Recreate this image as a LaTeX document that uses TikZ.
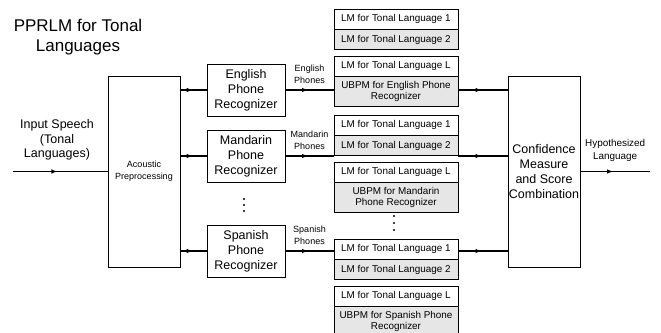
\documentclass[tikz,border=0pt]{standalone}
\usepackage{fontspec}
\setmainfont{Liberation Sans}
\usetikzlibrary{positioning,arrows.meta,decorations.markings}
\definecolor{lmfill}{RGB}{230,230,230}

\begin{document}
\begin{tikzpicture}[x=1pt, y=-1pt, node distance = 0pt]
      \tikzset{box/.style     = {draw, line width=0.8pt, align=center, inner sep=0pt},
               bigbox/.style  = {box, minimum width=72pt, minimum height=191pt},
               recog/.style   = {box, minimum width=78pt, minimum height=52pt,
                                 font=\fontsize{12.5}{15}\selectfont},
               lm/.style      = {box, minimum width=124pt, minimum height=19.5pt,
                                 font=\fontsize{9.9}{11}\selectfont},
               lmgrey/.style  = {lm, fill=lmfill},
               ubpm/.style    = {lmgrey, minimum height=29.5pt},
               small/.style   = {align=center, inner sep=1pt,
                                 font=\fontsize{9}{12}\selectfont},
               flow/.style    = {line width=1.1pt, postaction={decorate},
                                 decoration={markings, mark=at position 0.47 with
                                   {\arrow{Latex[length=6pt,width=4.5pt]}}}}}
      \useasboundingbox (0,0) rectangle (661,332);
      \node[align=center, font=\fontsize{17}{20}\selectfont] (title) at (78,37)
           {PPRLM for Tonal\\Languages};
      \node[align=center, font=\fontsize{12.5}{14.5}\selectfont] (input) at (57,140)
           {Input Speech\\(Tonal\\Languages)};
      \coordinate (in) at (13,171.5);
      \node[bigbox, small] (acoustic) at (144,171.5) {Acoustic\\Preprocessing};
      \node[recog] (english)  at (246,90)  {English\\Phone\\Recognizer};
      \node[recog] (mandarin) at (246,156) {Mandarin\\Phone\\Recognizer};
      \node[recog] (spanish)  at (246,251) {Spanish\\Phone\\Recognizer};
      \coordinate (rdots) at (244,205);
      \foreach \d in {-6,0,6}
        \fill (rdots) ++(0,\d) circle (1.1pt);
      % English LMs
      \node[lm, anchor=north] (eng1) at (396,9) {LM for Tonal Language 1};
      \node[lmgrey, below=of eng1] (eng2) {LM for Tonal Language 2};
      \node[lm, below=6.5pt of eng2] (engL) {LM for Tonal Language L};
      \node[ubpm, below=of engL] (engU) {UBPM for English Phone\\Recognizer};
      % Mandarin LMs
      \node[lm, anchor=north] (man1) at (396,115) {LM for Tonal Language 1};
      \node[lmgrey, below=of man1] (man2) {LM for Tonal Language 2};
      \node[lm, below=6.5pt of man2] (manL) {LM for Tonal Language L};
      \node[ubpm, below=of manL] (manU) {UBPM for Mandarin\\Phone Recognizer};
      \coordinate (lmdots) at (394,223);
      \foreach \d in {-7,0,7}
        \fill (lmdots) ++(0,\d) circle (1.1pt);
      % Spanish LMs
      \node[lm, anchor=north] (spa1) at (396,239) {LM for Tonal Language 1};
      \node[lmgrey, below=of spa1] (spa2) {LM for Tonal Language 2};
      \node[lm, below=6.5pt of spa2] (spaL) {LM for Tonal Language L};
      \node[ubpm, below=of spaL] (spaU) {UBPM for Spanish Phone\\Recognizer};
      \node[bigbox, font=\fontsize{12.5}{15}\selectfont] (conf) at (544,171.5)
           {Confidence\\Measure\\and Score\\Combination};
      \coordinate (out) at (650,171.5);
      \draw[flow] (in) -- (acoustic.west);
      \foreach \rec in {english, mandarin, spanish}
        \draw[flow] (acoustic.east |- \rec) -- (\rec.west);
      \draw[flow] (english.east) -- (english.east -| engU.west)
           node[midway, above=5pt, small] {English\\Phones};
      \draw[flow] (mandarin.east) -- (mandarin.east -| manL.west)
           node[midway, above=5pt, small] {Mandarin\\Phones};
      \draw[flow] (spanish.east) -- (spanish.east -| spa1.west)
           node[midway, above=5pt, small] {Spanish\\Phones};
      \draw[flow] (engU.east |- english) -- (conf.west |- english);
      \draw[flow] (manL.east |- mandarin) -- (conf.west |- mandarin);
      \draw[flow] (spa1.east |- spanish) -- (conf.west |- spanish);
      \draw[flow] (conf.east) -- (out)
           node[midway, above=8.5pt, align=center, inner sep=1pt,
                font=\fontsize{9.9}{13}\selectfont] (hyp) {Hypothesized\\Language};
    \end{tikzpicture}
\end{document}
